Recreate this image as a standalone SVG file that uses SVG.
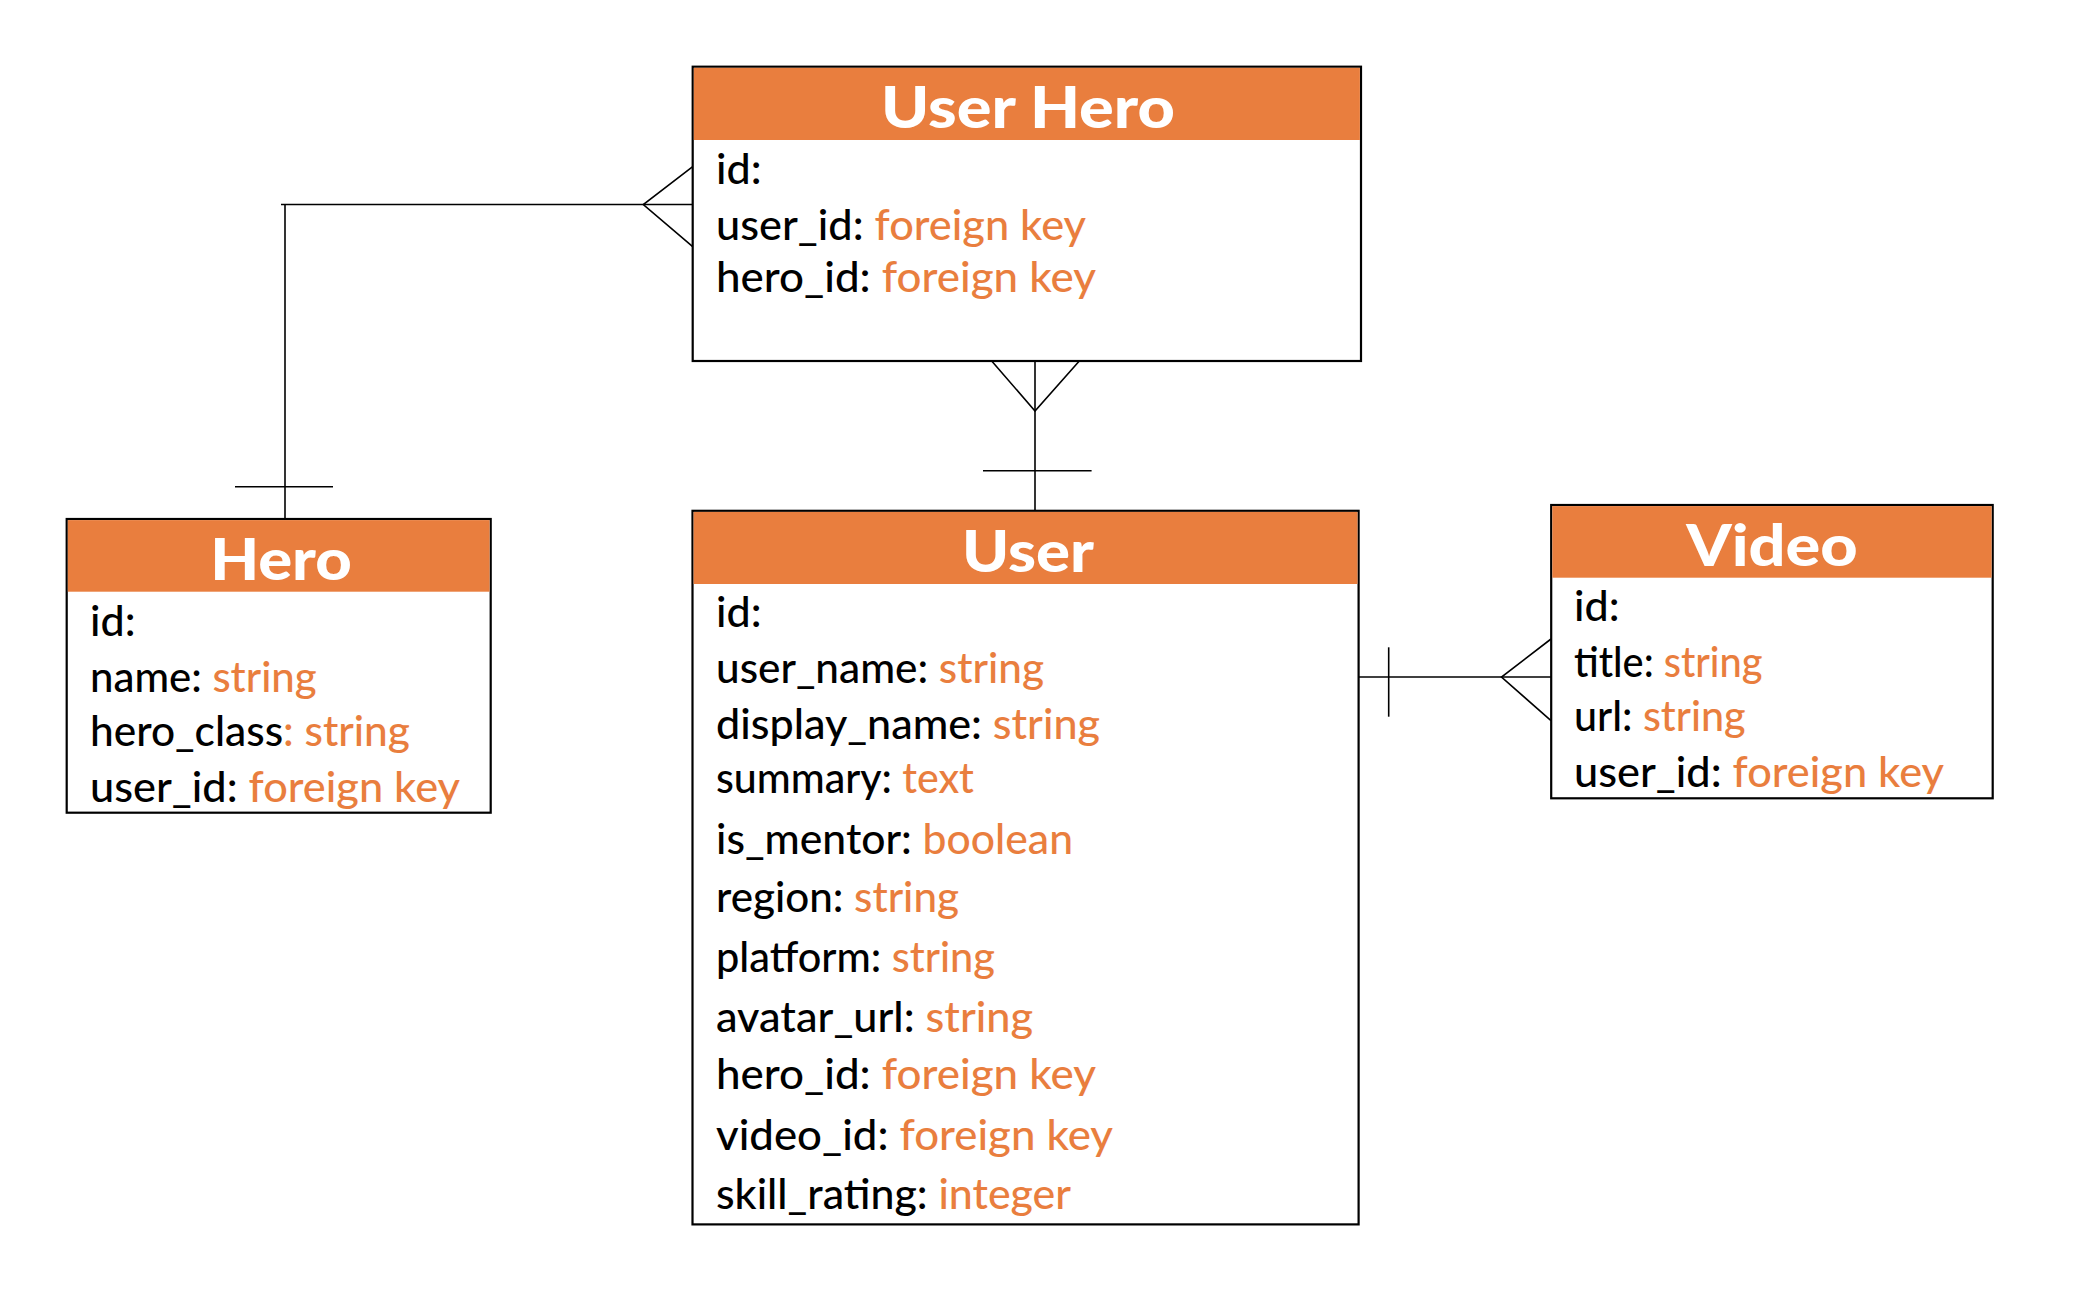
<svg xmlns="http://www.w3.org/2000/svg" width="2078" height="1308" viewBox="0 0 2078 1308">
<style>
.box{fill:#ffffff;stroke:#000000;stroke-width:2.2}
.hdr{fill:#E97E3E;stroke:none}
.ttl{font-family:"Lato","Open Sans",sans-serif;font-weight:900;font-size:58px;fill:#ffffff;text-anchor:middle}
.row{font-family:"Lato","Open Sans",sans-serif;font-weight:500;font-size:43px;fill:#000000}
.t{fill:#E97E3E}
.cn line,.cn polyline{stroke:#000000;stroke-width:1.6;fill:none}
</style>
<rect width="2078" height="1308" fill="#ffffff"/>
<g id="connectors" class="cn">
  <line x1="281" y1="204.5" x2="692.7" y2="204.5"/>
  <line x1="285" y1="204.5" x2="285" y2="524"/>
  <line x1="235" y1="486.7" x2="333" y2="486.7"/>
  <polyline points="692.7,166.7 643.3,204.5 692.7,246.7"/>
  <line x1="1035" y1="361" x2="1035" y2="511"/>
  <polyline points="991.7,361 1035,411 1079.3,361"/>
  <line x1="983" y1="470.7" x2="1091.6" y2="470.7"/>
  <line x1="1358.6" y1="677" x2="1553" y2="677"/>
  <line x1="1388.7" y1="647.3" x2="1388.7" y2="716.7"/>
  <polyline points="1551,639 1501.5,677 1551,720.7"/>
</g>
<g id="user-hero">
  <rect class="box" x="692.7" y="66.7" width="668.3" height="294.3"/>
  <rect class="hdr" x="693.8" y="67.8" width="666.1" height="72.2"/>
  <text class="ttl" x="1028" y="128.3" textLength="294" lengthAdjust="spacingAndGlyphs">User Hero</text>
  <text class="row" x="716" y="184">id:</text>
  <text class="row" x="716" y="240" textLength="370" lengthAdjust="spacingAndGlyphs">user_id: <tspan class="t">foreign key</tspan></text>
  <text class="row" x="716" y="292.3" textLength="380" lengthAdjust="spacingAndGlyphs">hero_id: <tspan class="t">foreign key</tspan></text>
</g>
<g id="hero">
  <rect class="box" x="66.7" y="519" width="424" height="293.7"/>
  <rect class="hdr" x="67.8" y="520.1" width="421.8" height="71.6"/>
  <text class="ttl" x="281" y="580" textLength="141.7" lengthAdjust="spacingAndGlyphs">Hero</text>
  <text class="row" x="90" y="635.7">id:</text>
  <text class="row" x="90" y="691.7" textLength="226.7" lengthAdjust="spacingAndGlyphs">name: <tspan class="t">string</tspan></text>
  <text class="row" x="90" y="746" textLength="320" lengthAdjust="spacingAndGlyphs">hero_class<tspan class="t">: string</tspan></text>
  <text class="row" x="90" y="801.7" textLength="370" lengthAdjust="spacingAndGlyphs">user_id: <tspan class="t">foreign key</tspan></text>
</g>
<g id="user">
  <rect class="box" x="692.5" y="510.8" width="666.1" height="713.6"/>
  <rect class="hdr" x="693.6" y="511.9" width="663.9" height="72.1"/>
  <text class="ttl" x="1028" y="572.3" textLength="132" lengthAdjust="spacingAndGlyphs">User</text>
  <text class="row" x="716" y="627.3">id:</text>
  <text class="row" x="716" y="683.3" textLength="328" lengthAdjust="spacingAndGlyphs">user_name: <tspan class="t">string</tspan></text>
  <text class="row" x="716" y="739" textLength="384" lengthAdjust="spacingAndGlyphs">display_name: <tspan class="t">string</tspan></text>
  <text class="row" x="716" y="793" textLength="258" lengthAdjust="spacingAndGlyphs">summary: <tspan class="t">text</tspan></text>
  <text class="row" x="716" y="854" textLength="357" lengthAdjust="spacingAndGlyphs">is_mentor: <tspan class="t">boolean</tspan></text>
  <text class="row" x="716" y="911.7" textLength="243" lengthAdjust="spacingAndGlyphs">region: <tspan class="t">string</tspan></text>
  <text class="row" x="716" y="972.3" textLength="279" lengthAdjust="spacingAndGlyphs">platform: <tspan class="t">string</tspan></text>
  <text class="row" x="716" y="1031.7" textLength="317" lengthAdjust="spacingAndGlyphs">avatar_url: <tspan class="t">string</tspan></text>
  <text class="row" x="716" y="1089.3" textLength="380" lengthAdjust="spacingAndGlyphs">hero_id: <tspan class="t">foreign key</tspan></text>
  <text class="row" x="716" y="1150" textLength="397" lengthAdjust="spacingAndGlyphs">video_id: <tspan class="t">foreign key</tspan></text>
  <text class="row" x="716" y="1209.3" textLength="355" lengthAdjust="spacingAndGlyphs">skill_rating: <tspan class="t">integer</tspan></text>
</g>
<g id="video">
  <rect class="box" x="1551.2" y="505" width="441.5" height="293.3"/>
  <rect class="hdr" x="1552.3" y="506.1" width="439.3" height="71.6"/>
  <text class="ttl" x="1772" y="565.7" textLength="171.7" lengthAdjust="spacingAndGlyphs">Video</text>
  <text class="row" x="1574" y="621">id:</text>
  <text class="row" x="1574" y="676.7" textLength="188.5" lengthAdjust="spacingAndGlyphs">title: <tspan class="t">string</tspan></text>
  <text class="row" x="1574" y="730.7" textLength="171.6" lengthAdjust="spacingAndGlyphs">url: <tspan class="t">string</tspan></text>
  <text class="row" x="1574" y="786.7" textLength="370" lengthAdjust="spacingAndGlyphs">user_id: <tspan class="t">foreign key</tspan></text>
</g>
</svg>
